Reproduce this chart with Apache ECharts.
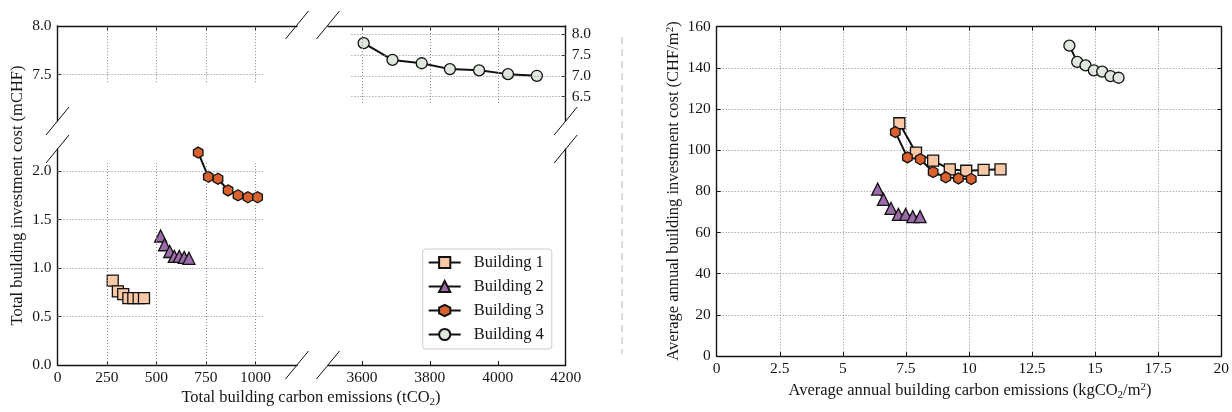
<!DOCTYPE html>
<html><head><meta charset="utf-8">
<script src="https://cdn.jsdelivr.net/npm/echarts@6/dist/echarts.min.js"></script>
<style>html,body{margin:0;padding:0;background:#fff}#c{width:1232px;height:412px}</style>
</head><body><div id="c"></div>
<script>
// ---------- DATA ----------
const seriesNames = ['Building 1','Building 2','Building 3','Building 4'];
// Left panel: total carbon emissions (tCO2) vs total investment cost (mCHF)
const b1TotalEmis = [279, 305, 332, 358, 383, 410, 437];
const b1TotalCost = [0.87, 0.76, 0.73, 0.69, 0.69, 0.69, 0.69];
const b2TotalEmis = [521, 541, 567, 590, 615, 640, 664];
const b2TotalCost = [1.33, 1.24, 1.17, 1.12, 1.12, 1.11, 1.10];
const b3TotalEmis = [711, 762, 811, 862, 912, 962, 1011];
const b3TotalCost = [2.19, 1.94, 1.92, 1.80, 1.75, 1.73, 1.73];
const b4TotalEmis = [3605, 3690, 3776, 3859, 3945, 4030, 4115];
const b4TotalCost = [7.78, 7.38, 7.30, 7.16, 7.13, 7.04, 7.00];
// Right panel: average annual emissions (kgCO2/m2) vs average annual cost (CHF/m2)
const b1AvgEmis = [7.24, 7.90, 8.58, 9.24, 9.89, 10.58, 11.25];
const b1AvgCost = [113.1, 98.8, 94.9, 90.7, 90.0, 90.4, 90.7];
const b2AvgEmis = [6.38, 6.61, 6.91, 7.20, 7.49, 7.77, 8.06];
const b2AvgCost = [81.1, 76.1, 71.7, 68.8, 68.8, 67.7, 67.7];
const b3AvgEmis = [7.08, 7.56, 8.07, 8.58, 9.08, 9.58, 10.09];
const b3AvgCost = [108.8, 96.5, 95.6, 89.4, 86.8, 86.3, 86.0];
const b4AvgEmis = [13.98, 14.29, 14.62, 14.95, 15.28, 15.61, 15.93];
const b4AvgCost = [150.8, 142.9, 141.2, 138.8, 138.2, 136.0, 135.2];
// Tick labels
const leftLowXTicks = [0, 250, 500, 750, 1000];
const leftHighXTicks = [3600, 3800, 4000, 4200];
const leftLowYTicks = [0, 0.5, 1.0, 1.5, 2.0];
const leftTopYTicks = [7.5, 8.0];
const leftTopRightYTicks = [6.5, 7.0, 7.5, 8.0];

// ---------- STYLE / LAYOUT ----------
const FONT = 'Liberation Serif';
const TXT = '#141414';
const AXC = '#141414';
const GRIDC = '#8a8a8a';
const colors = ['#f9c8a6', '#9b6aa8', '#d9612d', '#dfe7df'];
const symbols = ['rect', 'triangle', 'path://M0,-1 L0.866,-0.5 L0.866,0.5 L0,1 L-0.866,0.5 L-0.866,-0.5 Z', 'circle'];
const symSizes = [11, 12, 11, 11];

const axisLine = {show: true, onZero: false, lineStyle: {color: AXC, width: 1.4}};
const tickStyle = {lineStyle: {color: AXC, width: 1}};
const lblStyle = {fontFamily: FONT, fontSize: 15.5, color: TXT};
const fmt1 = v => v.toFixed(1);
const fmtPlain = v => String(v);

function xAx(gi, pos, min, max, ticks, labels) {
  return {
    type: 'value', gridIndex: gi, position: pos, min, max,
    axisLine,
    axisTick: ticks ? Object.assign({show: true, inside: true, length: 4, customValues: ticks}, tickStyle) : {show: false},
    axisLabel: labels ? Object.assign({show: true, margin: 5, customValues: labels, formatter: fmtPlain}, lblStyle) : {show: false},
    splitLine: {show: false}
  };
}
function yAx(gi, pos, min, max, ticks, labels) {
  return {
    type: 'value', gridIndex: gi, position: pos, min, max,
    axisLine,
    axisTick: ticks ? Object.assign({show: true, inside: true, length: 4, customValues: ticks}, tickStyle) : {show: false},
    axisLabel: labels ? Object.assign({show: true, margin: 6, customValues: labels, formatter: fmt1}, lblStyle) : {show: false},
    splitLine: {show: false}
  };
}

const grids = [
  {left: 57.5, top: 26, width: 239.5, height: 95},     // top-left
  {left: 57.5, top: 149, width: 239.5, height: 216},   // bottom-left
  {left: 328, top: 26, width: 237.7, height: 95},      // top-right
  {left: 328, top: 149, width: 237.7, height: 216},    // bottom-right
  {left: 716.7, top: 26.7, width: 506.6, height: 329.3} // right panel
];

const xAxes = [
  xAx(0, 'top', 0, 1210, [250, 500, 750, 1000], null),
  xAx(1, 'bottom', 0, 1210, leftLowXTicks, leftLowXTicks),
  xAx(2, 'top', 3500, 4200, [3600, 3800, 4000], null),
  xAx(3, 'bottom', 3500, 4200, leftHighXTicks, leftHighXTicks),
  {type: 'value', gridIndex: 4, position: 'bottom', min: 0, max: 20, interval: 2.5,
   axisLine, axisTick: Object.assign({inside: true, length: 4}, tickStyle),
   axisLabel: Object.assign({margin: 5}, lblStyle),
   splitLine: {show: true, lineStyle: {type: [1, 2], color: GRIDC, width: 1}}},
  {type: 'value', gridIndex: 4, position: 'top', min: 0, max: 20, interval: 2.5,
   axisLine, axisTick: Object.assign({inside: true, length: 4}, tickStyle),
   axisLabel: {show: false}, splitLine: {show: false}}
];
const yAxes = [
  yAx(0, 'left', 7.02, 8.0, leftTopYTicks, leftTopYTicks),
  yAx(1, 'left', 0, 2.227, leftLowYTicks, leftLowYTicks),
  yAx(2, 'right', 5.92, 8.19, leftTopRightYTicks, leftTopRightYTicks),
  yAx(3, 'right', 0, 1, null, null),
  {type: 'value', gridIndex: 4, position: 'left', min: 0, max: 160, interval: 20,
   axisLine, axisTick: Object.assign({inside: true, length: 4}, tickStyle),
   axisLabel: Object.assign({margin: 6}, lblStyle),
   splitLine: {show: true, lineStyle: {type: [1, 2], color: GRIDC, width: 1}}},
  {type: 'value', gridIndex: 4, position: 'right', min: 0, max: 160, interval: 20,
   axisLine, axisTick: Object.assign({inside: true, length: 4}, tickStyle),
   axisLabel: {show: false}, splitLine: {show: false}}
];

function mk(idx, xs, ys, xi, yi) {
  return {
    type: 'line', name: seriesNames[idx], xAxisIndex: xi, yAxisIndex: yi,
    data: xs.map((x, i) => [x, ys[i]]),
    symbol: symbols[idx], symbolSize: symSizes[idx], symbolKeepAspect: true, showAllSymbol: true,
    lineStyle: {color: '#111', width: 2},
    itemStyle: {color: colors[idx], borderColor: '#111', borderWidth: 1.3},
    emphasis: {disabled: true}, animation: false, z: 3
  };
}

// partial dotted grid lines of the broken-axis quadrants
function gridLines(xi, yi, hVals, hFrom, hTo, vVals, vFrom, vTo) {
  const data = [];
  hVals.forEach(v => data.push([{coord: [hFrom, v]}, {coord: [hTo, v]}]));
  vVals.forEach(v => data.push([{coord: [v, vFrom]}, {coord: [v, vTo]}]));
  return {
    type: 'line', xAxisIndex: xi, yAxisIndex: yi, data: [], silent: true, z: 1, animation: false,
    markLine: {silent: true, symbol: ['none', 'none'], label: {show: false}, animation: false,
      lineStyle: {type: [1, 2], color: GRIDC, width: 1}, emphasis: {disabled: true}, data}
  };
}

const series = [
  gridLines(0, 0, [7.5], 0, 1040, [250, 500, 750, 1000], 7.42, 8.0),
  gridLines(1, 1, [0.5, 1.0, 1.5, 2.0], 0, 1040, [250, 500, 750, 1000], 0, 2.08),
  gridLines(2, 2, [6.5, 7.0, 7.5, 8.0], 3569, 4200, [3600, 3800, 4000], 6.35, 8.19),
  mk(0, b1TotalEmis, b1TotalCost, 1, 1),
  mk(1, b2TotalEmis, b2TotalCost, 1, 1),
  mk(2, b3TotalEmis, b3TotalCost, 1, 1),
  mk(3, b4TotalEmis, b4TotalCost, 2, 2),
  mk(0, b1AvgEmis, b1AvgCost, 4, 4),
  mk(1, b2AvgEmis, b2AvgCost, 4, 4),
  mk(2, b3AvgEmis, b3AvgCost, 4, 4),
  mk(3, b4AvgEmis, b4AvgCost, 4, 4)
];

// break marks
const breakCenters = [[57.5, 121], [57.5, 149], [565.7, 121], [565.7, 149], [297, 25], [328, 25], [297, 365], [328, 365]];
const graphics = breakCenters.map(([cx, cy]) => ({
  type: 'line', silent: true, z: 10,
  shape: {x1: cx - 11.5, y1: cy + 14, x2: cx + 11.5, y2: cy - 14},
  style: {stroke: '#111', lineWidth: 1}
}));
graphics.push({type: 'line', silent: true, shape: {x1: 622, y1: 37, x2: 622, y2: 354},
  style: {stroke: '#cfcfcf', lineWidth: 1.5, lineDash: [7, 5]}});

const rich = {
  n: {fontFamily: FONT, fontSize: 16.5, color: TXT},
  sub: {fontFamily: FONT, fontSize: 11, color: TXT, padding: [8, 0, 0, 0]},
  sup: {fontFamily: FONT, fontSize: 11, color: TXT, padding: [0, 0, 8, 0]}
};
function label(x, y, rot, text) {
  return {type: 'text', silent: true, x, y, rotation: rot,
    style: {text, rich, align: 'center', verticalAlign: 'middle', fontFamily: FONT, fontSize: 16.5, fill: TXT}};
}
graphics.push(label(18, 195.5, Math.PI / 2, '{n|Total building investment cost (mCHF)}'));
graphics.push(label(311, 398, 0, '{n|Total building carbon emissions (tCO}{sub|2}{n|)}'));
graphics.push(label(674, 191, Math.PI / 2, '{n|Average annual building investment cost (CHF/m}{sup|2}{n|)}'));
graphics.push(label(970, 391, 0, '{n|Average annual building carbon emissions (kgCO}{sub|2}{n|/m}{sup|2}{n|)}'));

const chart = echarts.init(document.getElementById('c'), null, {renderer: 'canvas'});
chart.setOption({
  animation: false,
  backgroundColor: '#fff',
  grid: grids,
  xAxis: xAxes,
  yAxis: yAxes,
  legend: {
    data: seriesNames, orient: 'vertical', left: 422.7, top: 249,
    itemWidth: 32, itemHeight: 14, itemGap: 7, padding: [5, 8, 6, 5],
    borderColor: '#cccccc', borderWidth: 1, borderRadius: 3, backgroundColor: '#fff',
    selectedMode: false,
    textStyle: {fontFamily: FONT, fontSize: 16.5, color: TXT, padding: [0, 0, 0, 8]}
  },
  series,
  graphic: graphics
});
</script>
</body></html>
